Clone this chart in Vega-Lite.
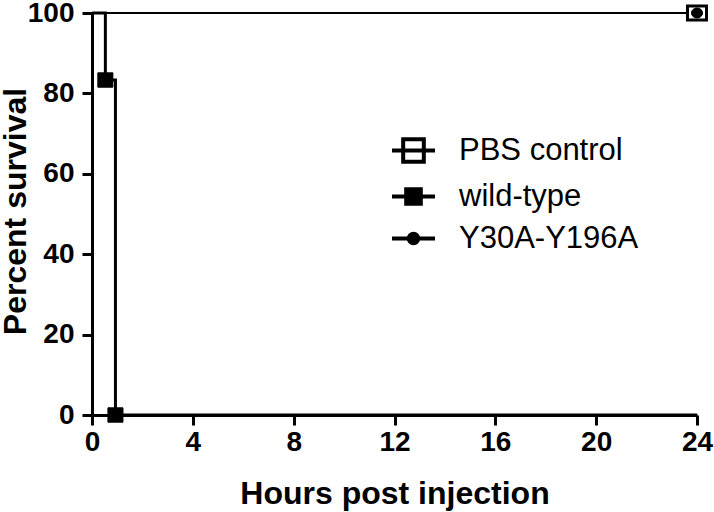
{
  "$schema": "https://vega.github.io/schema/vega-lite/v6.json",
  "width": 605,
  "height": 402,
  "autosize": "none",
  "padding": {"left": 92, "top": 13, "right": 17, "bottom": 97},
  "background": "white",
  "config": {
    "view": {"stroke": null},
    "font": "Liberation Sans",
    "axis": {
      "grid": false,
      "domainColor": "black",
      "domainWidth": 3,
      "tickColor": "black",
      "tickWidth": 3,
      "tickSize": 10,
      "labelColor": "black",
      "labelFont": "Liberation Sans",
      "labelFontSize": 28,
      "labelFontWeight": "bold",
      "labelFlush": false,
      "labelOverlap": false,
      "titleColor": "black",
      "titleFont": "Liberation Sans",
      "titleFontSize": 32,
      "titleFontWeight": "bold"
    }
  },
  "datasets": {
    "curves": [
      {"series": "PBS control", "hours": 0, "survival": 100},
      {"series": "PBS control", "hours": 24, "survival": 100},
      {"series": "Y30A-Y196A", "hours": 0, "survival": 100},
      {"series": "Y30A-Y196A", "hours": 24, "survival": 100},
      {"series": "wild-type", "hours": 0, "survival": 100},
      {"series": "wild-type", "hours": 0.53, "survival": 83.33},
      {"series": "wild-type", "hours": 0.93, "survival": 0},
      {"series": "wild-type", "hours": 24, "survival": 0}
    ],
    "markers": [
      {"series": "PBS control", "hours": 24, "survival": 100},
      {"series": "Y30A-Y196A", "hours": 24, "survival": 100},
      {"series": "wild-type", "hours": 0.53, "survival": 83.33},
      {"series": "wild-type", "hours": 0.93, "survival": 0}
    ]
  },
  "layer": [
    {
      "data": {"name": "curves"},
      "mark": {"type": "line", "interpolate": "step-after", "color": "black", "clip": false},
      "encoding": {
        "x": {
          "field": "hours", "type": "quantitative",
          "scale": {"domain": [0, 24], "nice": false, "zero": false},
          "axis": {"values": [0, 4, 8, 12, 16, 20, 24], "title": "Hours post injection", "titleY": 88, "titleBaseline": "alphabetic", "labelPadding": 3}
        },
        "y": {
          "field": "survival", "type": "quantitative",
          "scale": {"domain": [0, 100], "nice": false},
          "axis": {"values": [0, 20, 40, 60, 80, 100], "title": "Percent survival", "titleX": -67, "titleY": 198, "titleBaseline": "alphabetic", "labelPadding": 8}
        },
        "detail": {"field": "series"},
        "order": {"field": "hours"},
        "strokeWidth": {"condition": {"test": "datum.series === 'wild-type'", "value": 3}, "value": 2}
      }
    },
    {
      "data": {"name": "markers"},
      "mark": {"type": "point", "filled": true, "stroke": "black", "opacity": 1, "size": 256, "clip": false},
      "encoding": {
        "x": {"field": "hours", "type": "quantitative"},
        "y": {"field": "survival", "type": "quantitative"},
        "shape": {
          "condition": [
            {"test": "datum.series === 'PBS control'", "value": "M-1.19,-0.875H1.19V0.875H-1.19Z"},
            {"test": "datum.series === 'wild-type'", "value": "M-0.94,-0.9H0.94V0.9H-0.94Z"}
          ],
          "value": "M0.69,0A0.69,0.625,0,1,1,-0.69,0A0.69,0.625,0,1,1,0.69,0Z"
        },
        "fill": {"condition": {"test": "datum.series === 'PBS control'", "value": "white"}, "value": "black"},
        "strokeWidth": {"condition": {"test": "datum.series === 'PBS control'", "value": 3}, "value": 1}
      }
    },
    {
      "data": {"name": "markers"},
      "transform": [{"filter": "false"}],
      "mark": {"type": "point", "filled": true, "opacity": 1, "size": 1849, "strokeWidth": 4, "clip": false},
      "encoding": {
        "x": {"field": "hours", "type": "quantitative"},
        "y": {"field": "survival", "type": "quantitative"},
        "shape": {
          "field": "series", "type": "nominal",
          "scale": {
            "domain": ["PBS control", "wild-type", "Y30A-Y196A"],
            "range": ["M-1,0H1M-0.48,-0.52H0.48V0.52H-0.48Z", "M-1,0H1M-0.34,-0.34H0.34V0.34H-0.34Z", "M-1,0H1M0.22,0A0.22,0.22,0,1,1,-0.22,0A0.22,0.22,0,1,1,0.22,0Z"]
          },
          "legend": {
            "orient": "none",
            "legendX": 298,
            "legendY": 114,
            "title": null,
            "padding": 0,
            "labelFont": "Liberation Sans",
            "labelFontSize": 31,
            "labelFontWeight": "normal",
            "labelColor": "black",
            "labelOffset": 22,
            "labelLimit": 400,
            "symbolSize": 1849,
            "symbolStrokeWidth": 4,
            "rowPadding": 3
          }
        },
        "fill": {
          "field": "series", "type": "nominal",
          "scale": {"domain": ["PBS control", "wild-type", "Y30A-Y196A"], "range": ["white", "black", "black"]}
        },
        "stroke": {
          "field": "series", "type": "nominal",
          "scale": {"domain": ["PBS control", "wild-type", "Y30A-Y196A"], "range": ["black", "black", "black"]}
        }
      }
    }
  ]
}
